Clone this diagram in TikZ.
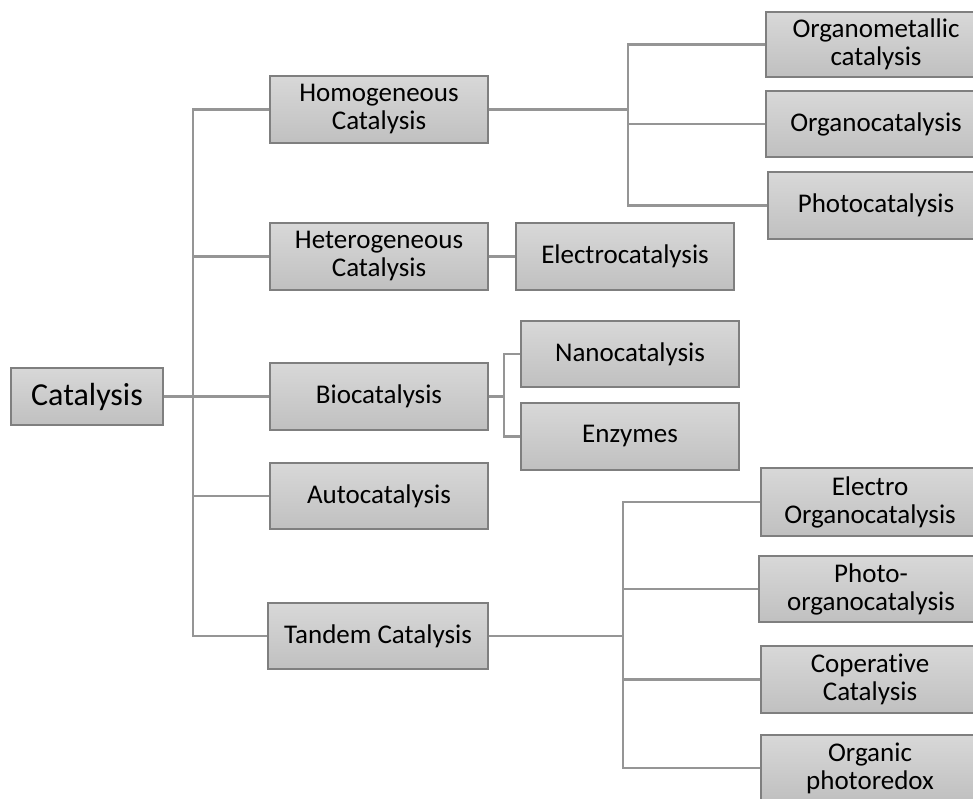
\documentclass[tikz,border=0pt]{standalone}
\usepackage{fontspec}
\setmainfont[Ligatures={NoCommon}]{Carlito}
\definecolor{boxline}{HTML}{7F7F7F}
\definecolor{boxtop}{HTML}{D8D8D8}
\definecolor{boxbot}{HTML}{C0C0C0}
\definecolor{linkc}{HTML}{959595}
\begin{document}
\begin{tikzpicture}[x=1pt,y=-1pt,
  cbox/.style={draw=boxline,line width=1.6pt,top color=boxtop,bottom color=boxbot,
    align=center,inner sep=0pt,text=black,font=\fontsize{27}{28}\selectfont},
  link/.style={draw=linkc,line width=2.3pt}]
\clip (0,0) rectangle (973,799);
\fill[white] (0,0) rectangle (973,799);
% nodes
\node[cbox,minimum width=152,minimum height=57,font=\fontsize{32}{34}\selectfont] (cat) at (87,396.5) {Catalysis};
\node[cbox,minimum width=218,minimum height=67] (hom) at (379,109.5) {Homogeneous\\Catalysis};
\node[cbox,minimum width=218,minimum height=67] (het) at (379,256.5) {Heterogeneous\\Catalysis};
\node[cbox,minimum width=218,minimum height=67] (bio) at (379,396.5) {Biocatalysis};
\node[cbox,minimum width=218,minimum height=66] (auto) at (379,496) {Autocatalysis};
\node[cbox,minimum width=220,minimum height=66] (tan) at (378,636) {Tandem Catalysis};
\node[cbox,minimum width=218,minimum height=67] (ele) at (625,256.5) {Electrocatalysis};
\node[cbox,minimum width=218,minimum height=66] (nano) at (630,354) {Nanocatalysis};
\node[cbox,minimum width=218,minimum height=67] (enz) at (630,436.5) {Enzymes};
\node[cbox,minimum width=220,minimum height=65] (om) at (876,44.5) {Organometallic\\catalysis};
\node[cbox,minimum width=220,minimum height=66] (oc) at (876,124) {Organocatalysis};
\node[cbox,minimum width=216,minimum height=67] (ph) at (876,205.5) {Photocatalysis};
\node[cbox,minimum width=218,minimum height=68] (eo) at (870,502) {Electro\\Organocatalysis};
\node[cbox,minimum width=224,minimum height=66] (po) at (871,589) {Photo-\\organocatalysis};
\node[cbox,minimum width=218,minimum height=67] (cc) at (870,679.5) {Coperative\\Catalysis};
\node[cbox,minimum width=218,minimum height=66] (op) at (870,768) {Organic\\photoredox};
% junctions
\coordinate (j1) at (193,396.5);
\coordinate (j2) at (628,109.5);
\coordinate (j3) at (504,396.5);
\coordinate (j4) at (623,636);
% connectors
\draw[link] (cat.east) -- (j1);
\draw[link] (hom.west) -| (j1) |- (tan.west);
\draw[link] (j1 |- het.west) -- (het.west);
\draw[link] (j1 |- bio.west) -- (bio.west);
\draw[link] (j1 |- auto.west) -- (auto.west);
\draw[link] (het.east) -- (ele.west);
\draw[link] (hom.east) -- (j2);
\draw[link] (om.west) -| (j2) |- (ph.west);
\draw[link] (j2 |- oc.west) -- (oc.west);
\draw[link] (bio.east) -- (j3);
\draw[link] (nano.west) -| (j3) |- (enz.west);
\draw[link] (tan.east) -- (j4);
\draw[link] (eo.west) -| (j4) |- (op.west);
\draw[link] (j4 |- po.west) -- (po.west);
\draw[link] (j4 |- cc.west) -- (cc.west);
\end{tikzpicture}
\end{document}
